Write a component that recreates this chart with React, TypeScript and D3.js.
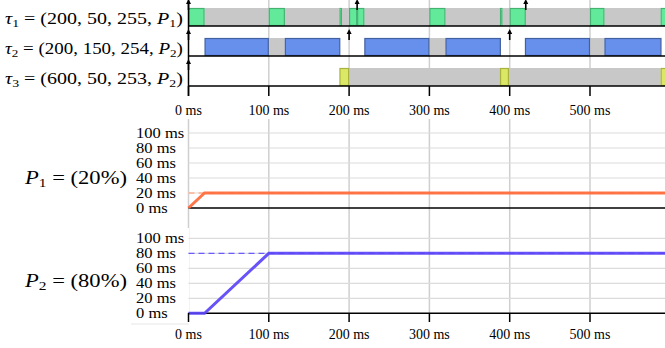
import { useEffect, useRef } from 'react';
import * as d3 from 'd3';

// task rows of the schedule
const taskNames = ['1', '2', '3'];
const taskParams = ['200, 50, 255', '200, 150, 254', '600, 50, 253'];
const taskProcs = ['1', '2', '2'];
const taskColors = ['#62ea9a', '#6690eb', '#dbe866'];
const taskStrokes = ['#45b272', '#44619f', '#a8b23c'];

// [start, end] in ms
const execSegments: [number, number][][] = [
  [[0, 20], [100, 120], [188, 191], [200, 210], [210, 219], [300, 320], [388, 391], [400, 420], [500, 518], [588, 600]],
  [[20, 100], [120, 189], [219, 300], [320, 389], [419, 500], [518, 589]],
  [[188, 200], [388, 399], [588, 600]],
];
const waitSegments: [number, number][][] = [
  [[20, 100], [120, 188], [191, 200], [219, 300], [320, 388], [391, 400], [420, 500], [518, 588]],
  [[100, 120], [300, 320], [500, 518]],
  [[200, 388], [399, 588]],
];
const releases = [
  [0, 210, 420],
  [0, 200, 400],
  [0],
];

// processor supply curves
const procNames = ['1', '2'];
const procShares = ['20%', '80%'];
const procCapacity = [20, 80];
const supplyTimes = [[0, 20, 600], [0, 20, 100, 600]];
const supplyValues = [[0, 20, 20], [0, 0, 80, 80]];
const procColors = ['#ff6a3a', '#5a44f6'];
const procDashColors = ['#ffb090', '#6b5cff'];

const xTicks = [0, 100, 200, 300, 400, 500];
const yTicks = [0, 20, 40, 60, 80, 100];

export default function App() {
  const svgRef = useRef<SVGSVGElement>(null);
  const width = 665;
  const height = 348;

  useEffect(() => {
    if (!svgRef.current) return;
    const svg = d3.select(svgRef.current);
    svg.selectAll('*').remove();

    const serif = "'Liberation Serif', 'Times New Roman', serif";
    const x = d3.scaleLinear().domain([0, 600]).range([188.5, 670.3]);
    const rowBase = [26, 56, 86];
    const boxH = 18;

    // vertical grid in the schedule
    svg.append('g')
      .selectAll('line')
      .data(xTicks.slice(1))
      .join('line')
      .attr('x1', d => x(d)).attr('x2', d => x(d))
      .attr('y1', 0).attr('y2', 86)
      .attr('stroke', '#cfcfcf').attr('stroke-width', 1.5);

    taskNames.forEach((name, i) => {
      const base = rowBase[i];
      const row = svg.append('g');

      row.selectAll('rect.wait')
        .data(waitSegments[i])
        .join('rect')
        .attr('class', 'wait')
        .attr('x', d => x(d[0]))
        .attr('y', base - boxH)
        .attr('width', d => x(d[1]) - x(d[0]))
        .attr('height', boxH)
        .attr('fill', '#c8c8c8');

      row.selectAll('rect.exec')
        .data(execSegments[i])
        .join('rect')
        .attr('class', 'exec')
        .attr('x', d => x(d[0]) + 0.5)
        .attr('y', base - boxH + 0.5)
        .attr('width', d => Math.max(x(d[1]) - x(d[0]) - 1, 0.5))
        .attr('height', boxH - 1)
        .attr('fill', taskColors[i])
        .attr('stroke', taskStrokes[i])
        .attr('stroke-width', 1.2);

      // baseline
      row.append('line')
        .attr('x1', x(0)).attr('x2', width)
        .attr('y1', base).attr('y2', base)
        .attr('stroke', '#000').attr('stroke-width', 1.5);

      // release arrows
      const top = base - boxH;
      releases[i].forEach(t => {
        row.append('line')
          .attr('x1', x(t)).attr('x2', x(t))
          .attr('y1', top - 5).attr('y2', top + 2)
          .attr('stroke', '#000').attr('stroke-width', 1.6);
        row.append('path')
          .attr('d', `M${x(t) - 2.5},${top - 4} L${x(t)},${top - 9} L${x(t) + 2.5},${top - 4} Z`)
          .attr('fill', '#000');
      });

      // label
      const label = svg.append('text')
        .attr('font-family', serif)
        .attr('font-size', 16)
        .attr('fill', '#000');
      label.append('tspan').attr('font-style', 'italic').text('τ');
      label.append('tspan').attr('font-size', 11).attr('dy', 3).text(name);
      label.append('tspan').attr('dy', -3).text(` = (${taskParams[i]}, `);
      label.append('tspan').attr('font-style', 'italic').text('P');
      label.append('tspan').attr('font-size', 11).attr('dy', 3).text(taskProcs[i]);
      label.append('tspan').attr('dy', -3).text(')');
      const w = (label.node() as SVGTextElement).getComputedTextLength();
      label.attr('transform', `translate(5,${base - 2}) scale(${178 / w},1)`);
    });

    // schedule axis
    svg.append('line')
      .attr('x1', x(0)).attr('x2', x(0))
      .attr('y1', 0).attr('y2', 96)
      .attr('stroke', '#000').attr('stroke-width', 1.5);
    const topAxis = svg.append('g');
    topAxis.selectAll('line')
      .data(xTicks)
      .join('line')
      .attr('x1', d => x(d)).attr('x2', d => x(d))
      .attr('y1', 86).attr('y2', 96)
      .attr('stroke', '#000').attr('stroke-width', 1.5);
    topAxis.selectAll('text')
      .data(xTicks)
      .join('text')
      .attr('x', d => x(d))
      .attr('y', 115)
      .attr('text-anchor', 'middle')
      .attr('font-family', serif)
      .attr('font-size', 14)
      .text(d => `${d} ms`);

    // processor charts: vertical grid
    svg.append('g')
      .selectAll('line')
      .data(xTicks)
      .join('line')
      .attr('x1', d => x(d)).attr('x2', d => x(d))
      .attr('y1', 119).attr('y2', 313)
      .attr('stroke', '#cfcfcf').attr('stroke-width', 1.5);

    const yRanges: [number, number][] = [[208, 133], [313.3, 238.3]];
    const labelBase = [184, 287];

    procNames.forEach((pn, i) => {
      const y = d3.scaleLinear().domain([0, 100]).range(yRanges[i]);
      const g = svg.append('g');

      if (i === 1) {
        g.append('rect')
          .attr('x', 131).attr('y', 228)
          .attr('width', 58).attr('height', 96)
          .attr('fill', '#fff');
        g.append('line')
          .attr('x1', 131).attr('x2', 189)
          .attr('y1', 324).attr('y2', 324)
          .attr('stroke', '#e6e6e6').attr('stroke-width', 1);
      }

      g.selectAll('line.grid')
        .data(yTicks.slice(1))
        .join('line')
        .attr('class', 'grid')
        .attr('x1', x(0)).attr('x2', width)
        .attr('y1', d => y(d)).attr('y2', d => y(d))
        .attr('stroke', '#dcdcdc').attr('stroke-width', 1.2);

      g.selectAll('text.ytick')
        .data(yTicks)
        .join('text')
        .attr('class', 'ytick')
        .attr('transform', d => `translate(136,${y(d) + 4.5}) scale(1.18,1)`)
        .attr('font-family', serif)
        .attr('font-size', 14)
        .text(d => `${d} ms`);

      g.append('line')
        .attr('x1', x(0)).attr('x2', width)
        .attr('y1', y(0)).attr('y2', y(0))
        .attr('stroke', '#000').attr('stroke-width', 1.5);

      // capacity line
      g.append('line')
        .attr('x1', x(0)).attr('x2', width)
        .attr('y1', y(procCapacity[i])).attr('y2', y(procCapacity[i]))
        .attr('stroke', procDashColors[i])
        .attr('stroke-width', 1.3)
        .attr('stroke-dasharray', '6,4');

      const pts = supplyTimes[i].map((t, k) => [t, supplyValues[i][k]] as [number, number]);
      const line = d3.line<[number, number]>()
        .x(d => x(d[0]))
        .y(d => y(d[1]));
      g.append('path')
        .attr('d', line(pts))
        .attr('fill', 'none')
        .attr('stroke', procColors[i])
        .attr('stroke-width', 3)
        .attr('opacity', 0.92);

      const label = svg.append('text')
        .attr('font-family', serif)
        .attr('font-size', 19)
        .attr('fill', '#000');
      label.append('tspan').attr('font-style', 'italic').text('P');
      label.append('tspan').attr('font-size', 13).attr('dy', 3).text(pn);
      label.append('tspan').attr('dy', -3).text(` = (${procShares[i]})`);
      const w = (label.node() as SVGTextElement).getComputedTextLength();
      label.attr('transform', `translate(25,${labelBase[i]}) scale(${102 / w},1)`);
    });

    // bottom axis
    const bottom = svg.append('g');
    bottom.selectAll('line')
      .data(xTicks)
      .join('line')
      .attr('x1', d => x(d)).attr('x2', d => x(d))
      .attr('y1', 313).attr('y2', 322)
      .attr('stroke', '#000').attr('stroke-width', 1.5);
    bottom.selectAll('text')
      .data(xTicks)
      .join('text')
      .attr('x', d => x(d))
      .attr('y', 339)
      .attr('text-anchor', 'middle')
      .attr('font-family', serif)
      .attr('font-size', 14)
      .text(d => `${d} ms`);
  }, []);

  return (
    <svg
      ref={svgRef}
      width={width}
      height={height}
      style={{ position: 'absolute', left: 0, top: 0, background: '#fff' }}
    />
  );
}
